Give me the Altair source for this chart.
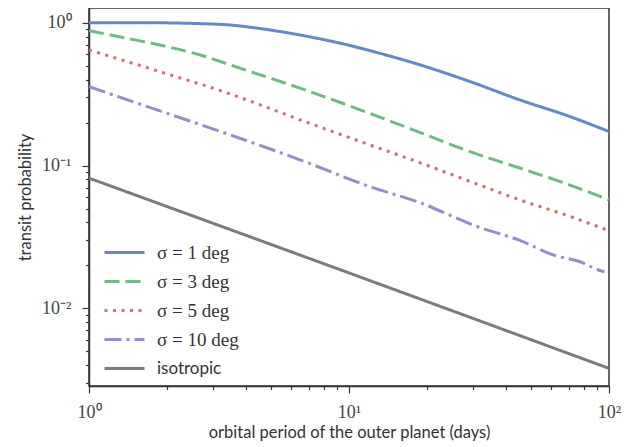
import altair as alt
import pandas as pd

# ---- data ----
series_names = ["σ = 1 deg", "σ = 3 deg", "σ = 5 deg", "σ = 10 deg", "isotropic"]

P_s1 = [1, 1.7, 2.0, 2.67, 3.49, 4.55, 6.48, 7.74, 10.0, 12.0, 18.8, 29.2, 45.4, 70.8, 100]
prob_s1 = [1.0, 1.0, 0.997, 0.985, 0.963, 0.91, 0.82, 0.77, 0.695, 0.638, 0.506, 0.387, 0.288, 0.220, 0.173]

P_s3 = [1, 1.35, 1.93, 2.74, 3.49, 6.48, 12.0, 18.8, 29.2, 45.4, 70.8, 100]
prob_s3 = [0.879, 0.788, 0.689, 0.587, 0.506, 0.348, 0.232, 0.170, 0.125, 0.096, 0.073, 0.0575]

P_s5 = [1, 1.875, 3.49, 6.48, 12.0, 18.8, 29.2, 45.4, 70.8, 100]
prob_s5 = [0.644, 0.454, 0.317, 0.209, 0.1396, 0.1044, 0.0773, 0.0575, 0.0440, 0.0349]

P_s10 = [1, 1.875, 3.49, 6.48, 12.0, 18.8, 31.1, 45.4, 60.9, 79.4, 89.9, 96.0]
prob_s10 = [0.357, 0.241, 0.164, 0.1096, 0.0713, 0.0548, 0.0374, 0.0299, 0.0237, 0.0208, 0.0187, 0.0180]

P_iso = [1, 10, 100]
prob_iso = [0.0816, 0.0177, 0.0038]

x_ticks = [1, 2, 3, 4, 5, 6, 7, 8, 9, 10, 20, 30, 40, 50, 60, 70, 80, 90, 100]
y_ticks = [0.003, 0.004, 0.005, 0.006, 0.007, 0.008, 0.009, 0.01,
           0.02, 0.03, 0.04, 0.05, 0.06, 0.07, 0.08, 0.09, 0.1,
           0.2, 0.3, 0.4, 0.5, 0.6, 0.7, 0.8, 0.9, 1.0]

colors = ["#6589c5", "#6fb983", "#d0706f", "#9a8dc6", "#7c7c7c"]
dashes = [[1, 0], [15, 6], [3, 5.5], [17, 5, 3, 5], [1, 0]]
widths = [3, 3, 3, 3, 1.5]

rows = []
for name, ps, vs in zip(series_names, [P_s1, P_s3, P_s5, P_s10, P_iso],
                        [prob_s1, prob_s3, prob_s5, prob_s10, prob_iso]):
    for i, (p, v) in enumerate(zip(ps, vs)):
        rows.append({"series": name, "P": p, "prob": v, "order": i})
df = pd.DataFrame(rows)

serif = "Liberation Serif"
sans = "Lato"

major_test_x = "datum.value == 1 || datum.value == 10 || datum.value == 100"
major_test_y = "datum.value == 1 || datum.value == 0.1 || datum.value == 0.01"

x_axis = alt.Axis(
    values=x_ticks,
    labelExpr="datum.value == 1 ? '10⁰' : datum.value == 10 ? '10¹' : datum.value == 100 ? '10²' : ''",
    tickSize={"condition": {"test": major_test_x, "value": 7}, "value": 3.5},
    tickColor="#333333", tickWidth=1.2,
    domainColor="#333333", domainWidth=1.5,
    labelFont=serif, labelFontSize=18, labelColor="#444444",
    labelPadding=10, labelFlush=False,
    title="orbital period of the outer planet (days)",
    titleFont=sans, titleFontSize=16.5, titleFontWeight="normal", titleColor="#333333",
    titlePadding=3, grid=False,
)
y_axis = alt.Axis(
    values=y_ticks,
    labelExpr="datum.value == 1 ? '10⁰' : datum.value == 0.1 ? '10⁻¹' : datum.value == 0.01 ? '10⁻²' : ''",
    tickSize={"condition": {"test": major_test_y, "value": 7}, "value": 3.5},
    tickColor="#333333", tickWidth=1.2,
    domainColor="#333333", domainWidth=1.5,
    labelFont=serif, labelFontSize=18, labelColor="#444444",
    labelPadding=11, labelFlush=False,
    title="transit probability",
    titleFont=sans, titleFontSize=16.5, titleFontWeight="normal", titleColor="#333333",
    titlePadding=8, grid=False,
)

legend = alt.Legend(
    title=None, orient="none", legendX=24, legendY=233,
    symbolType="M-2,0L2,0", symbolSize=400, symbolStrokeWidth=3,
    labelColor="#333333", labelOffset=21, rowPadding=7,
    labelFont={"expr": "datum.label == 'isotropic' ? 'Lato' : 'Liberation Serif'"},
    labelFontSize={"expr": "datum.label == 'isotropic' ? 17 : 19"},
)

chart = alt.Chart(df).mark_line(clip=True, interpolate="monotone").encode(
    x=alt.X("P:Q", scale=alt.Scale(type="log", domain=[1, 100], nice=False), axis=x_axis),
    y=alt.Y("prob:Q", scale=alt.Scale(type="log", domain=[0.00286, 1.267], nice=False), axis=y_axis),
    color=alt.Color("series:N", scale=alt.Scale(domain=series_names, range=colors), legend=legend),
    strokeDash=alt.StrokeDash("series:N", scale=alt.Scale(domain=series_names, range=dashes), legend=legend),
    strokeWidth=alt.StrokeWidth("series:N", scale=alt.Scale(domain=series_names, range=widths), legend=legend),
    order="order:Q",
).properties(
    width=520, height=378,
    autosize=alt.AutoSizeParams(type="none"),
    padding={"left": 81, "top": 0, "right": 21, "bottom": 60},
).configure_view(
    stroke="#333333", strokeWidth=1.5
)

chart.save("out.html", embed_options={"renderer": "svg", "actions": False})
